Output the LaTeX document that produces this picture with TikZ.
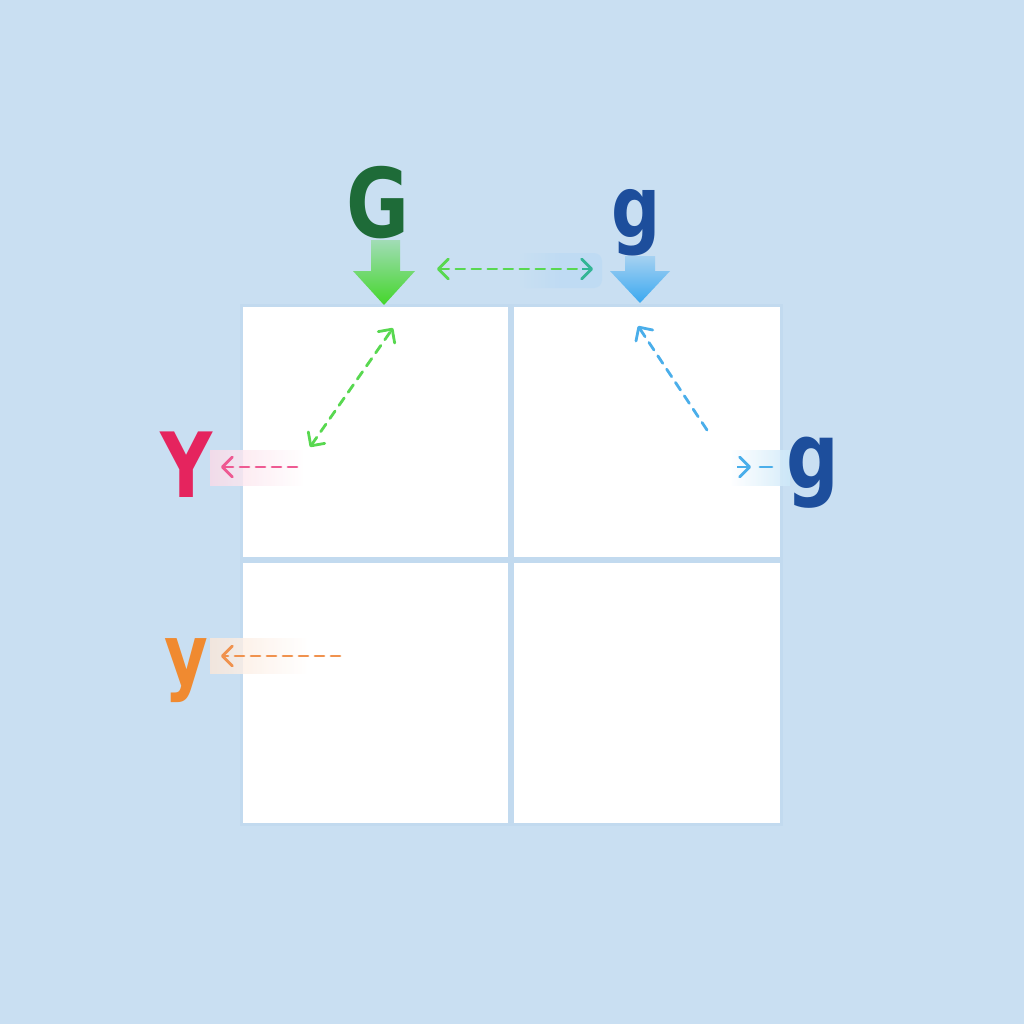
\documentclass[tikz,border=0pt]{standalone}
\usepackage{fontspec}
\setmainfont{DejaVu Sans}
\usetikzlibrary{arrows.meta}
\definecolor{bg}{HTML}{C9DFF2}
\definecolor{gapc}{HTML}{C2DAEF}
\definecolor{Gcol}{HTML}{1E6B38}
\definecolor{gcol}{HTML}{1D4E9C}
\definecolor{Ycol}{HTML}{E5245E}
\definecolor{ycol}{HTML}{F08A30}
\definecolor{pinkarr}{HTML}{EE5A92}
\definecolor{orarr}{HTML}{F0924E}
\definecolor{bluearr}{HTML}{4AAEEA}
\definecolor{greenarr}{HTML}{58D850}
\definecolor{tealarr}{HTML}{33B595}
\definecolor{bigg}{HTML}{44D62A}
\definecolor{bigb}{HTML}{3AA8F0}
\definecolor{glowb}{HTML}{BDDBF4}
\newcommand{\narrow}[1]{\scalebox{0.8}[1]{#1}}
\tikzset{
  cell/.style={fill=white,draw=none},
  letter/.style={inner sep=0pt,anchor=base,font=\bfseries\fontsize{#1}{#1}\selectfont},
  dline/.style={line width=2.8pt,dash pattern=on 9pt off 7pt,line cap=round},
  barb/.style={arrows={-{Straight Barb[length=10pt,width=20pt,line width=2.8pt,round]}}},
  lbarb/.style={arrows={{Straight Barb[length=10pt,width=20pt,line width=2.8pt,round]}-}},
  dbarb/.style={arrows={{Straight Barb[length=10pt,width=20pt,line width=2.8pt,round]}-{Straight Barb[length=10pt,width=20pt,line width=2.8pt,round]}}},
}
\begin{document}
\begin{tikzpicture}[x=1pt,y=-1pt]
\fill[bg] (0,0) rectangle (1024,1024);
\useasboundingbox (0,0) rectangle (1024,1024);
\fill[gapc] (240,304) rectangle (783,826);
% cells
\fill[cell] (243,307) rectangle (508,557);
\fill[cell] (514,307) rectangle (780,557);
\fill[cell] (243,563) rectangle (508,823);
\fill[cell] (514,563) rectangle (780,823);
% glows
\shade[left color=bg, right color=glowb, middle color=glowb, rounded corners=8pt, opacity=0.8] (518,253) rectangle (602,288);
\shade[right color=white, left color=pinkarr!22!white, opacity=0.8] (210,450) rectangle (304,485);
\shade[right color=white, left color=orarr!22!white, opacity=0.8] (210,638) rectangle (308,673);
\shade[left color=white, right color=bluearr!28!white, opacity=0.8] (730,450) rectangle (790,485);
% letters
\node[letter=96,text=Gcol] (G) at (378,237) {\narrow{G}};
\node[letter=86,text=gcol] (gtop) at (636,237) {\narrow{g}};
\node[letter=90,text=Ycol] (Y) at (187,497) {\narrow{Y}};
\node[letter=92,text=gcol] (gright) at (813,488) {\narrow{g}};
\node[letter=84,text=ycol] (y) at (186,684) {\narrow{y}};
% block arrows
\shade[top color=bigg!30!bg, bottom color=bigg]
  (371,240) -- (400,240) -- (400,271) -- (415,271) -- (384,305) -- (353,271) -- (371,271) -- cycle;
\shade[top color=bigb!25!bg, bottom color=bigb]
  (625,256) -- (655,256) -- (655,271) -- (670,271) -- (640,303) -- (610,271) -- (625,271) -- cycle;
% coordinates
\coordinate (hL) at (437,269);
\coordinate (hM) at (582,269);
\coordinate (hR) at (593,269);
\coordinate (dgT) at (393,328);
\coordinate (dgB) at (310,447);
\coordinate (dbT) at (638,326);
\coordinate (dbB) at (707,430);
\coordinate (pS) at (297,467);
\coordinate (pE) at (221,467);
\coordinate (oS) at (340,656);
\coordinate (oE) at (221,656);
\coordinate (rA) at (737,467);
\coordinate (rB) at (751,467);
\coordinate (rC) at (760,467);
\coordinate (rD) at (772,467);
% dashed arrows
\draw[dline,greenarr,lbarb] (hL) -- (hM);
\draw[line width=2.8pt,tealarr,barb] (hM) -- (hR);
\draw[dline,greenarr,dbarb] (dgB) -- (dgT);
\draw[dline,bluearr,barb] (dbB) -- (dbT);
\draw[dline,pinkarr,barb] (pS) -- (pE);
\draw[dline,orarr,barb] (oS) -- (oE);
\draw[line width=2.8pt,bluearr,barb] (rA) -- (rB);
\draw[line width=2.8pt,bluearr,line cap=round] (rC) -- (rD);
\end{tikzpicture}
\end{document}
